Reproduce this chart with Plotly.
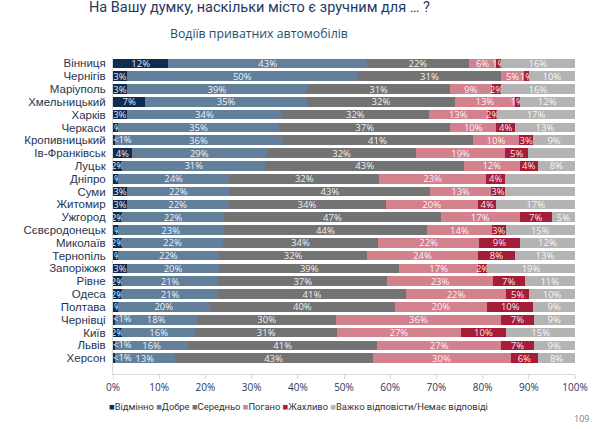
import plotly.graph_objects as go

cities = ["Вінниця", "Чернігів", "Маріуполь", "Хмельницький", "Харків", "Черкаси",
          "Кропивницький", "Ів-Франківськ", "Луцьк", "Дніпро", "Суми", "Житомир",
          "Ужгород", "Сєвєродонецьк", "Миколаїв", "Тернопіль", "Запоріжжя", "Рівне",
          "Одеса", "Полтава", "Чернівці", "Київ", "Львів", "Херсон"]

# 0.4 stands for the "<1%" answers
excellent = [12, 3, 3, 7, 3, 1, 0.4, 4, 2, 1, 3, 3, 2, 1, 2, 1, 3, 2, 2, 1, 0.4, 2, 0.4, 0.4]
good = [43, 50, 39, 35, 34, 35, 36, 29, 31, 24, 22, 22, 22, 23, 22, 22, 20, 21, 21, 20, 18, 16, 16, 13]
average = [22, 31, 31, 32, 32, 37, 41, 32, 43, 32, 43, 34, 47, 44, 34, 32, 39, 37, 41, 40, 30, 31, 41, 43]
bad = [6, 5, 9, 13, 13, 10, 10, 19, 12, 23, 13, 20, 17, 14, 22, 24, 17, 23, 22, 20, 36, 27, 27, 30]
terrible = [1, 1, 2, 1, 2, 4, 3, 5, 4, 4, 3, 4, 7, 3, 9, 8, 2, 7, 5, 10, 7, 10, 7, 6]
hard = [16, 10, 16, 12, 17, 13, 9, 10, 8, 15, 15, 17, 5, 15, 12, 13, 19, 11, 10, 9, 9, 15, 9, 8]

series_names = ["Відмінно", "Добре", "Середньо", "Погано", "Жахливо",
                "Важко відповісти/Немає відповіді"]
series_values = [excellent, good, average, bad, terrible, hard]
colors = ["#0f2d52", "#62809c", "#737373", "#d4818e", "#a51d36", "#b4b4b4"]

tick_vals = [0, 10, 20, 30, 40, 50, 60, 70, 80, 90, 100]
tick_text = [f"{v}%" for v in tick_vals]

LABEL_FONT = dict(family="Open Sans", size=9.5, color="rgba(255,255,255,0.92)")

fig = go.Figure()
for name, vals, col in zip(series_names, series_values, colors):
    texts = ["" if v < 1 else f"{v}%" for v in vals]
    fig.add_trace(go.Bar(
        y=cities, x=vals, name=name, orientation="h",
        marker=dict(color=col, line=dict(width=0)),
        text=texts, textposition="inside", insidetextanchor="middle",
        constraintext="none", textangle=0, textfont=LABEL_FONT,
        showlegend=False, hoverinfo="skip",
    ))

# "<1%" labels, anchored at bar start
lt1_cities = [c for c, v in zip(cities, excellent) if v < 1]
fig.add_trace(go.Scatter(
    x=[0] * len(lt1_cities), y=lt1_cities, mode="text",
    text=["<1%"] * len(lt1_cities), textposition="middle right",
    textfont=LABEL_FONT, showlegend=False, hoverinfo="skip", cliponaxis=False,
))

legend_text = "\u00a0".join(
    f"<span style='color:{c}'>■</span>{n}" for n, c in zip(series_names, colors)
)

fig.update_layout(
    width=600, height=429,
    margin=dict(l=113, r=21, t=57, b=55),
    paper_bgcolor="white", plot_bgcolor="white",
    barmode="stack", barnorm="percent", bargap=0.25,
    showlegend=False,
    font=dict(family="Open Sans", color="#1f3550"),
    xaxis=dict(range=[0, 100], tickvals=tick_vals, ticktext=tick_text,
               showgrid=False, zeroline=False, showline=True, linecolor="#d9d9d9",
               linewidth=1, ticks="outside", ticklen=4, tickcolor="#d9d9d9",
               tickfont=dict(size=10, color="#1f3864"), fixedrange=True),
    yaxis=dict(autorange="reversed", tickmode="array", tickvals=cities,
               ticktext=cities, showgrid=False, showline=True,
               linecolor="#d9d9d9", linewidth=1, ticks="", ticklabelstandoff=4,
               tickfont=dict(family="Liberation Sans", size=11.5, color="#1f3550")),
    annotations=[
        dict(text="На Вашу думку, наскільки місто є зручним для … ?",
             xref="paper", yref="paper", x=0.318, y=1.155, xanchor="center",
             yanchor="middle", showarrow=False,
             font=dict(family="Roboto", size=14.5, color="#1f3864")),
        dict(text="Водіїв приватних автомобілів",
             xref="paper", yref="paper", x=0.315, y=1.0726, xanchor="center",
             yanchor="middle", showarrow=False,
             font=dict(size=12.3, color="#1f4e6e")),
        dict(text=legend_text, xref="paper", yref="paper", x=-0.013, y=-0.104,
             xanchor="left", yanchor="middle", showarrow=False,
             font=dict(family="Roboto", size=9.4, color="#333333")),
        dict(text="109", xref="paper", yref="paper", x=1.013, y=-0.139,
             xanchor="center", yanchor="middle", showarrow=False,
             font=dict(size=9, color="#808080")),
    ],
)

fig.write_html("out.html")
